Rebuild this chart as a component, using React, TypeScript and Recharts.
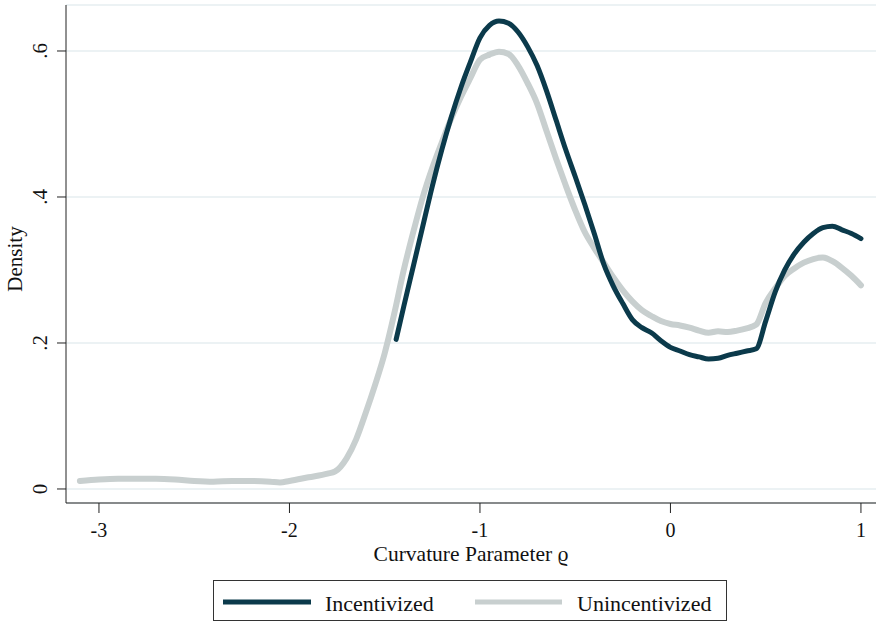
import { CartesianGrid, Label, Line, LineChart, XAxis, YAxis } from "recharts";

// Kernel density of the curvature parameter, by treatment

const INC_X = [
  -1.44, -1.4, -1.35, -1.3, -1.25, -1.2, -1.15, -1.1, -1.05, -1.0, -0.95, -0.9, -0.85, -0.8, -0.75, -0.7,
  -0.65, -0.6, -0.55, -0.5, -0.45, -0.4, -0.35, -0.3, -0.25, -0.2, -0.15, -0.1, -0.05, 0, 0.05, 0.1, 0.15,
  0.2, 0.25, 0.3, 0.35, 0.4, 0.45, 0.5, 0.55, 0.6, 0.65, 0.7, 0.75, 0.8, 0.85, 0.9, 0.95, 1.0,
];
const INC_Y = [
  0.205, 0.25, 0.305, 0.36, 0.415, 0.465, 0.51, 0.55, 0.585, 0.618, 0.635, 0.641, 0.638, 0.626, 0.606, 0.58,
  0.545, 0.505, 0.465, 0.428, 0.39, 0.35, 0.308, 0.278, 0.254, 0.232, 0.221, 0.214, 0.203, 0.194, 0.189, 0.184,
  0.181, 0.178, 0.179, 0.183, 0.186, 0.189, 0.192, 0.23, 0.27, 0.3, 0.322, 0.338, 0.35, 0.358, 0.36, 0.355,
  0.35, 0.343,
];

const UNINC_X = [
  -3.1, -3.0, -2.9, -2.8, -2.7, -2.6, -2.5, -2.4, -2.3, -2.2, -2.1, -2.05, -2.0, -1.9, -1.8, -1.76, -1.7, -1.65,
  -1.6, -1.55, -1.5, -1.45, -1.4, -1.35, -1.3, -1.25, -1.2, -1.15, -1.1, -1.05, -1.0, -0.95, -0.9, -0.85, -0.8,
  -0.75, -0.7, -0.65, -0.6, -0.55, -0.5, -0.45, -0.4, -0.35, -0.3, -0.25, -0.2, -0.15, -0.1, -0.05, 0, 0.05,
  0.1, 0.15, 0.2, 0.25, 0.3, 0.35, 0.4, 0.45, 0.5, 0.55, 0.6, 0.65, 0.7, 0.75, 0.8, 0.85, 0.9, 0.95, 1.0,
];
const UNINC_Y = [
  0.011, 0.013, 0.014, 0.014, 0.014, 0.013, 0.011, 0.01, 0.011, 0.011, 0.01, 0.009, 0.011, 0.016, 0.021, 0.024,
  0.042, 0.068, 0.104, 0.143, 0.186, 0.24, 0.3, 0.352, 0.4, 0.44, 0.475, 0.508, 0.537, 0.563, 0.588, 0.595,
  0.599, 0.596, 0.58, 0.556, 0.528, 0.49, 0.452, 0.416, 0.382, 0.352, 0.33, 0.31, 0.29, 0.272, 0.257, 0.245,
  0.237, 0.23, 0.226, 0.224, 0.221, 0.217, 0.214, 0.216, 0.215, 0.217, 0.22, 0.225, 0.255, 0.275, 0.292, 0.302,
  0.31, 0.315, 0.317, 0.312, 0.303, 0.292, 0.279,
];

const X_TICKS = [-3, -2, -1, 0, 1];
const Y_TICKS = [0, 0.2, 0.4, 0.6];

const incentivized = INC_X.map((x, i) => ({ x, y: INC_Y[i] }));
const unincentivized = UNINC_X.map((x, i) => ({ x, y: UNINC_Y[i] }));

const DARK = "#0b3a4b";
const LIGHT = "#c8cfcf";
const FONT = "'Liberation Serif', 'DejaVu Serif', serif";

const fmtY = (v: number) => (v === 0 ? "0" : String(v).replace(/^0/, ""));

const XTick = (props: any) => {
  const { x, payload } = props;
  return (
    <text x={x} y={537} textAnchor="middle" fontFamily={FONT} fontSize={20} fill="#111">
      {payload.value}
    </text>
  );
};

const YTick = (props: any) => {
  const { y, payload } = props;
  return (
    <text
      x={40}
      y={y}
      transform={`rotate(-90 40 ${y})`}
      textAnchor="middle"
      dominantBaseline="central"
      fontFamily={FONT}
      fontSize={21}
      fill="#111"
    >
      {fmtY(payload.value)}
    </text>
  );
};

export default function App() {
  return (
    <div style={{ position: "absolute", left: 0, top: 0, width: 878, height: 622, background: "#fff" }}>
      <LineChart width={878} height={622} margin={{ top: 5, right: 2, left: 0, bottom: 0 }}>
        <CartesianGrid horizontal vertical={false} stroke="#e6eef0" strokeWidth={1.5} />
        <XAxis
          type="number"
          dataKey="x"
          domain={[-3.173, 1.079]}
          ticks={X_TICKS}
          allowDataOverflow
          height={119}
          stroke="#222"
          tickSize={10}
          tick={<XTick />}
        >
          <Label
            content={() => (
              <text x={471} y={561} textAnchor="middle" fontFamily={FONT} fontSize={21.5} fill="#111">
                Curvature Parameter ϱ
              </text>
            )}
          />
        </XAxis>
        <YAxis
          type="number"
          domain={[-0.0192, 0.663]}
          ticks={Y_TICKS}
          allowDataOverflow
          width={66}
          stroke="#222"
          tickSize={9}
          tick={<YTick />}
        >
          <Label
            content={() => (
              <text
                x={15}
                y={259}
                transform="rotate(-90 15 259)"
                textAnchor="middle"
                dominantBaseline="central"
                fontFamily={FONT}
                fontSize={21}
                fill="#111"
              >
                Density
              </text>
            )}
          />
        </YAxis>
        <Line
          data={unincentivized}
          dataKey="y"
          type="monotone"
          stroke={LIGHT}
          strokeWidth={6}
          dot={false}
          strokeLinecap="round"
          isAnimationActive={false}
        />
        <Line
          data={incentivized}
          dataKey="y"
          type="monotone"
          stroke={DARK}
          strokeWidth={5}
          dot={false}
          strokeLinecap="round"
          isAnimationActive={false}
        />
      </LineChart>
      <div
        style={{
          position: "absolute",
          left: 213,
          top: 580,
          width: 514,
          height: 41,
          border: "1px solid #333",
          boxSizing: "border-box",
        }}
      >
        <svg width={512} height={39} style={{ display: "block" }}>
          <line x1={9} y1={21} x2={97} y2={21} stroke={DARK} strokeWidth={5} />
          <text x={111} y={30} fontFamily={FONT} fontSize={22} fill="#111">
            Incentivized
          </text>
          <line x1={261} y1={21} x2={348} y2={21} stroke={LIGHT} strokeWidth={5} />
          <text x={363} y={30} fontFamily={FONT} fontSize={22} fill="#111">
            Unincentivized
          </text>
        </svg>
      </div>
    </div>
  );
}
